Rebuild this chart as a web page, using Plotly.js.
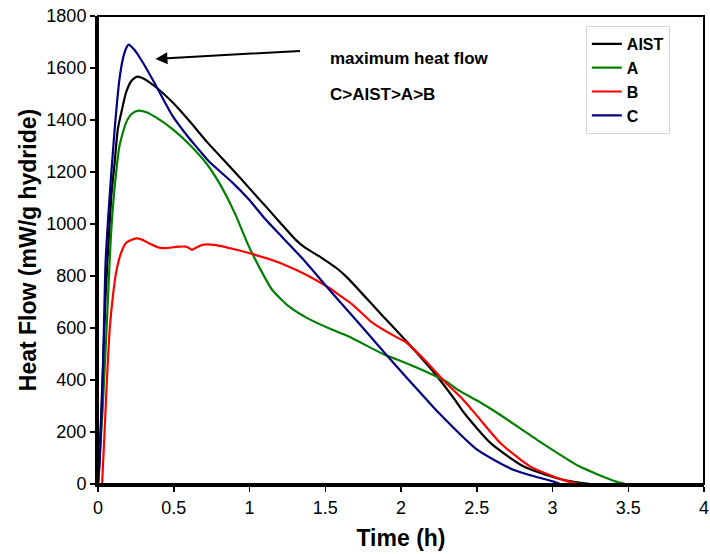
<!DOCTYPE html>
<html>
<head>
<meta charset="utf-8">
<script src="https://cdn.plot.ly/plotly-3.0.1.min.js"></script>
<style>html,body{margin:0;padding:0;background:#fff;}#chart{width:710px;height:554px;}</style>
</head>
<body>
<div id="chart"></div>
<script>
// ---- data ----
const seriesNames = ["AIST", "A", "B", "C"];
const seriesColors = ["#000000", "#008000", "#ff0000", "#000080"];

const aistTime = [0, 0.02, 0.05, 0.088, 0.11, 0.131, 0.164, 0.186, 0.22, 0.258, 0.3, 0.383, 0.492, 0.602, 0.722, 0.886, 1.0, 1.105, 1.2, 1.302, 1.367, 1.476, 1.586, 1.652, 1.87, 1.979, 2.045, 2.22, 2.352, 2.417, 2.592, 2.811, 3.03, 3.15, 3.25];
const aistFlow = [0, 250, 720, 1108, 1237, 1365, 1455, 1507, 1550, 1567, 1560, 1526, 1468, 1397, 1314, 1211, 1137, 1069, 1007, 941, 909, 870, 825, 790, 652, 585, 543, 427, 327, 273, 157, 67, 22, 7, 0];

const aTime = [0, 0.03, 0.06, 0.088, 0.12, 0.142, 0.186, 0.225, 0.269, 0.32, 0.383, 0.492, 0.602, 0.722, 0.798, 0.85, 0.908, 0.995, 1.061, 1.148, 1.258, 1.378, 1.52, 1.652, 1.892, 1.979, 2.133, 2.308, 2.373, 2.505, 2.636, 2.898, 3.18, 3.42, 3.48];
const aFlow = [0, 280, 640, 980, 1200, 1301, 1391, 1425, 1436, 1430, 1410, 1365, 1307, 1228, 1160, 1105, 1035, 915, 838, 748, 684, 639, 600, 568, 497, 478, 440, 391, 363, 320, 273, 170, 67, 9, 0];

const bTime = [0.027, 0.044, 0.059, 0.077, 0.098, 0.12, 0.153, 0.186, 0.252, 0.29, 0.339, 0.405, 0.45, 0.514, 0.58, 0.6, 0.62, 0.65, 0.689, 0.777, 0.908, 1.028, 1.171, 1.302, 1.389, 1.542, 1.586, 1.68, 1.804, 1.979, 2.024, 2.155, 2.286, 2.406, 2.505, 2.657, 2.854, 3.073, 3.18];
const bFlow = [0, 208, 401, 594, 722, 815, 890, 928, 945, 940, 925, 909, 907, 912, 913, 908, 901, 910, 920, 919, 902, 883, 857, 825, 800, 748, 729, 690, 624, 562, 549, 478, 395, 327, 260, 157, 67, 15, 0];

const cTime = [0, 0.011, 0.033, 0.05, 0.077, 0.11, 0.142, 0.164, 0.185, 0.203, 0.24, 0.295, 0.383, 0.492, 0.602, 0.667, 0.733, 0.886, 0.995, 1.105, 1.345, 1.52, 1.586, 1.761, 1.914, 1.979, 2.045, 2.165, 2.242, 2.505, 2.745, 3.008, 3.05];
const cFlow = [0, 81, 440, 852, 1108, 1365, 1558, 1635, 1675, 1690, 1670, 1622, 1532, 1416, 1330, 1285, 1240, 1160, 1095, 1018, 870, 752, 708, 592, 490, 447, 404, 327, 278, 131, 54, 9, 0];

const xTickVals = [0, 0.5, 1, 1.5, 2, 2.5, 3, 3.5, 4];
const yTickVals = [0, 200, 400, 600, 800, 1000, 1200, 1400, 1600, 1800];

const arrowHead = [0.379, 1635];
const arrowTail = [1.343, 1666];
const noteLines = ["maximum heat flow", "C>AIST>A>B"];
const noteX = 1.516;
const noteY = [1635, 1500];

// ---- chart ----
const xs = [aistTime, aTime, bTime, cTime];
const ys = [aistFlow, aFlow, bFlow, cFlow];
const traces = seriesNames.map((n, i) => ({
  type: "scatter", mode: "lines", name: n,
  x: xs[i], y: ys[i],
  line: {color: seriesColors[i], width: 2.2, shape: "spline", smoothing: 0.6}
}));

const FONT = "Liberation Sans, Arial, sans-serif";
const layout = {
  width: 710, height: 554,
  margin: {l: 98, r: 6, t: 16, b: 70, pad: 0},
  paper_bgcolor: "#fff", plot_bgcolor: "#fff",
  font: {family: FONT, color: "#000"},
  showlegend: true,
  legend: {
    x: 0.805, y: 0.9786, xanchor: "left", yanchor: "top",
    bgcolor: "#fff", bordercolor: "#d8d8d8", borderwidth: 1,
    font: {family: FONT, size: 16, color: "#000", weight: "bold"},
    itemwidth: 30, tracegroupgap: 0
  },
  xaxis: {
    range: [0, 4], tickvals: xTickVals, ticks: "outside", ticklen: 5, tickwidth: 1.5, tickcolor: "#000",
    showgrid: false, zeroline: false, showline: true, linewidth: 3, linecolor: "#000",
    tickfont: {family: FONT, size: 18, color: "#000"}, ticklabeloverflow: "allow",
    title: {text: "Time (h)", font: {family: FONT, size: 23, color: "#000", weight: "bold"}, standoff: 14},
    automargin: false
  },
  yaxis: {
    range: [0, 1800], tickvals: yTickVals, ticks: "outside", ticklen: 5, tickwidth: 1.5, tickcolor: "#000",
    showgrid: false, zeroline: false, showline: true, linewidth: 3, linecolor: "#000",
    tickfont: {family: FONT, size: 18, color: "#000"},
    title: {text: "Heat Flow (mW/g hydride)", font: {family: FONT, size: 23, color: "#000", weight: "bold"}, standoff: 4},
    automargin: false
  },
  shapes: [
    {type: "rect", xref: "paper", yref: "paper", x0: 0, x1: 1, y0: 0, y1: 1, line: {color: "#000", width: 2}, layer: "above"}
  ],
  annotations: [
    {x: arrowHead[0], y: arrowHead[1], ax: arrowTail[0], ay: arrowTail[1], xref: "x", yref: "y", axref: "x", ayref: "y",
     text: "", showarrow: true, arrowhead: 2, arrowsize: 1.2, arrowwidth: 2, arrowcolor: "#000"},
    {x: noteX, y: noteY[0], xref: "x", yref: "y", text: noteLines[0], showarrow: false, xanchor: "left", yanchor: "middle",
     font: {family: FONT, size: 17, color: "#000", weight: "bold"}},
    {x: noteX, y: noteY[1], xref: "x", yref: "y", text: noteLines[1], showarrow: false, xanchor: "left", yanchor: "middle",
     font: {family: FONT, size: 17, color: "#000", weight: "bold"}}
  ]
};

Plotly.newPlot("chart", traces, layout, {displayModeBar: false, staticPlot: true});
</script>
</body>
</html>
